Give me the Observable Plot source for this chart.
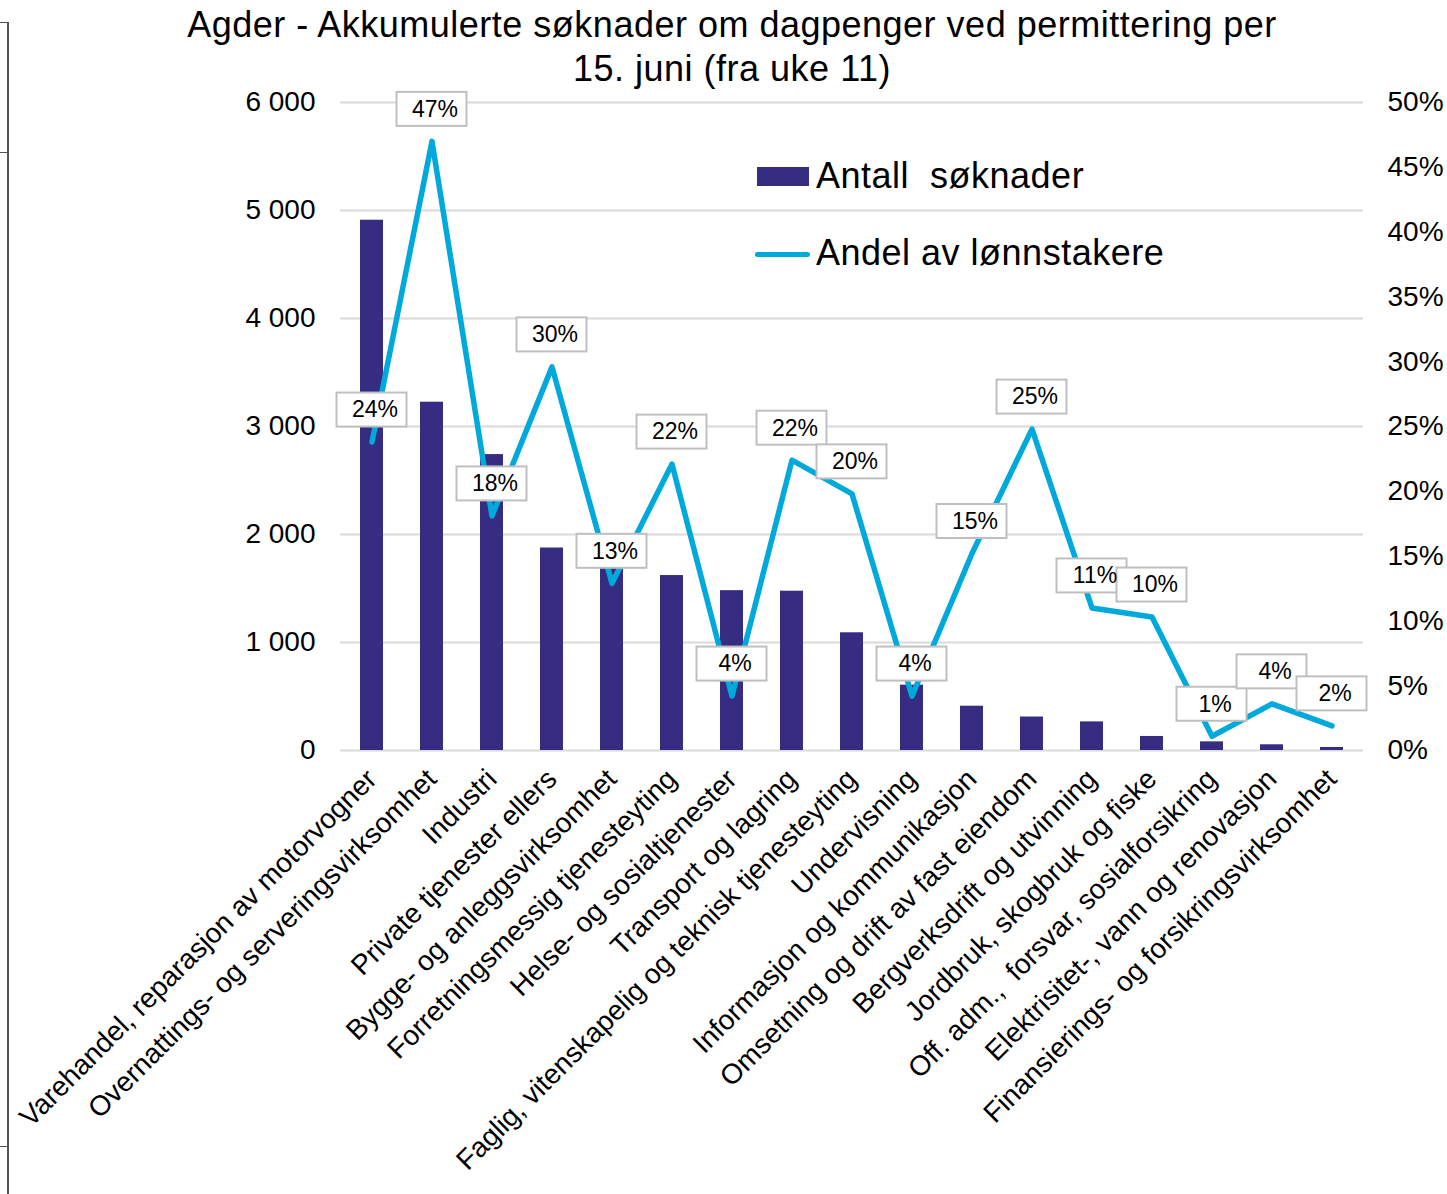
<!DOCTYPE html>
<html>
<head>
<meta charset="utf-8">
<script src="https://cdn.jsdelivr.net/npm/d3@7"></script>
<script src="https://cdn.jsdelivr.net/npm/@observablehq/plot@0.6"></script>
<style>
  body { margin: 0; background: white; font-family: "Liberation Sans", Arial, sans-serif; }
  #wrap { position: relative; width: 1447px; height: 1194px; overflow: hidden; }
  #title { height: 90px; box-sizing: border-box; padding-top: 3px; padding-left: 17px; text-align: center;
           font-size: 36px; line-height: 44px; color: #000; letter-spacing: 0.5px; }
  .leg { position: absolute; font-size: 36px; line-height: 36px; color: #000; white-space: pre; letter-spacing: 0.5px; }
  .edge { position: absolute; background: #555; }
</style>
</head>
<body>
<div id="wrap">
  <div id="title">Agder - Akkumulerte søknader om dagpenger ved permittering per<br>15. juni (fra uke 11)</div>
  <div id="chart"></div>
  <div class="leg" style="left:757px; top:167px; width:52px; height:19px; background:#362d83;"></div>
  <div class="leg" style="left:816px; top:158px;">Antall  søknader</div>
  <div class="leg" style="left:755px; top:252px; width:55px; height:5px; border-radius:3px; background:#00a9db;"></div>
  <div class="leg" style="left:816px; top:235px;">Andel av lønnstakere</div>
  <div class="edge" style="left:7px; top:22px; width:2px; height:1172px;"></div>
  <div class="edge" style="left:0px; top:22px; width:8px; height:1px;"></div>
  <div class="edge" style="left:0px; top:152px; width:8px; height:1px;"></div>
  <div class="edge" style="left:0px; top:1146px; width:8px; height:1px;"></div>
</div>
<script>
const categories = [
  "Varehandel, reparasjon av motorvogner",
  "Overnattings- og serveringsvirksomhet",
  "Industri",
  "Private tjenester ellers",
  "Bygge- og anleggsvirksomhet",
  "Forretningsmessig tjenesteyting",
  "Helse- og sosialtjenester",
  "Transport og lagring",
  "Faglig, vitenskapelig og teknisk tjenesteyting",
  "Undervisning",
  "Informasjon og kommunikasjon",
  "Omsetning og drift av fast eiendom",
  "Bergverksdrift og utvinning",
  "Jordbruk, skogbruk og fiske",
  "Off. adm.,  forsvar, sosialforsikring",
  "Elektrisitet-, vann og renovasjon",
  "Finansierings- og forsikringsvirksomhet"
];
const antallSoknader = [4910, 3225, 2740, 1875, 1720, 1620, 1480, 1475, 1090, 605, 410, 310, 265, 130, 80, 53, 28];
const andelLonnstakere = [23.8, 47.0, 18.1, 29.6, 12.9, 22.1, 4.2, 22.4, 19.8, 4.2, 15.2, 24.8, 11.0, 10.3, 1.1, 3.6, 1.9];
const leftTicks = [0, 1000, 2000, 3000, 4000, 5000, 6000];
const rightTicksPct = [0, 5, 10, 15, 20, 25, 30, 35, 40, 45, 50];

const pctToY = 6000 / 50; // right axis 0–50 % shares the left scale 0–6000
const rows = categories.map((c, i) => ({cat: c, n: antallSoknader[i], pct: andelLonnstakere[i], py: andelLonnstakere[i] * pctToY}));
const thousands = d => d3.format(",")(d).replace(/,/g, " ");

const barColor = "#362d83";
const lineColor = "#00a9db";

const chart = Plot.plot({
  width: 1447,
  height: 1104,
  marginTop: 12,
  marginBottom: 444,
  marginLeft: 340,
  marginRight: 84,
  style: {fontFamily: "Liberation Sans, Arial, sans-serif", fontSize: "27px", color: "#000", background: "white", overflow: "visible"},
  x: {domain: categories, paddingInner: 0.62, paddingOuter: 0.31},
  y: {domain: [0, 6000]},
  marks: [
    Plot.gridY(leftTicks, {stroke: "#d9d9d9", strokeOpacity: 1, strokeWidth: 2}),
    Plot.axisY(leftTicks, {anchor: "left", tickSize: 0, tickPadding: 25, tickFormat: thousands, fontSize: 28, label: null}),
    Plot.axisY(rightTicksPct.map(p => p * pctToY), {anchor: "right", tickSize: 0, tickPadding: 24, tickFormat: d => Math.round(d / pctToY) + "%", fontSize: 28, textAnchor: "start", label: null}),
    Plot.axisX({tickRotate: -45, tickSize: 0, tickPadding: 24, fontSize: 28, label: null}),
    Plot.barY(rows, {x: "cat", y: "n", fill: barColor}),
    Plot.lineY(rows, {x: "cat", y: "py", stroke: lineColor, strokeWidth: 5.5, strokeLinejoin: "round", strokeLinecap: "round"}),
    Plot.barY(rows, {x: "cat", y1: "py", y2: "py", fill: "white", stroke: "#bfbfbf", strokeWidth: 2,
      insetLeft: -23.5, insetRight: -23.5, insetTop: -17, insetBottom: -17, dy: -32}),
    Plot.text(rows, {x: "cat", y: "py", text: d => d3.format(".0f")(d.pct) + "%", dy: -32, dx: 3, fontSize: 23, fill: "#000"})
  ]
});
document.getElementById("chart").appendChild(chart);
</script>
</body>
</html>
